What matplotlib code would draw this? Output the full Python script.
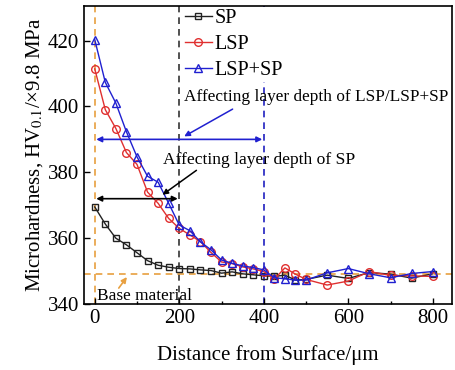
import matplotlib
matplotlib.use('Agg')
import matplotlib.pyplot as plt

plt.rcParams['font.family'] = ['Liberation Serif', 'DejaVu Serif']
plt.rcParams['mathtext.fontset'] = 'stix'

# depth from surface (um)
depth = [0, 25, 50, 75, 100, 125, 150, 175, 200, 225, 250, 275, 300, 325, 350,
         375, 400, 425, 450, 475, 500, 550, 600, 650, 700, 750, 800]

sp = [369.5, 364.3, 360.0, 358.0, 355.6, 353.2, 351.8, 351.2, 350.8, 350.7,
      350.4, 350.2, 349.4, 349.8, 349.2, 348.9, 348.6, 348.4, 348.8, 347.3,
      347.5, 348.8, 347.8, 349.6, 349.1, 347.9, 349.2]
lsp = [411.4, 399.0, 393.3, 386.0, 382.4, 374.0, 370.6, 366.0, 363.0, 361.0,
       359.0, 355.7, 352.8, 352.3, 351.3, 350.7, 349.9, 347.6, 351.0, 349.1,
       347.5, 345.8, 347.0, 349.9, 348.7, 348.6, 348.4]
lsp_sp = [420.3, 407.3, 401.0, 392.3, 384.7, 378.8, 377.0, 370.6, 364.0, 362.3,
          358.9, 356.5, 353.4, 352.4, 351.6, 351.1, 350.4, 348.0, 347.7, 347.3,
          347.3, 349.5, 350.8, 349.2, 348.0, 349.3, 349.9]

base_hv = 349
orange = '#E8A040'

fig = plt.figure(figsize=(4.55, 3.7), dpi=100)
ax = fig.add_axes([0.185, 0.178, 0.808, 0.806])

# reference lines
ax.axvline(0, color=orange, ls=(0, (4, 3)), lw=1.2, zorder=1)
ax.axvline(200, color='#333333', ls=(0, (4, 3)), lw=1.2, zorder=1)
ax.axvline(400, color='#2020C0', ls=(0, (4, 3)), lw=1.2, zorder=1)
ax.axhline(base_hv, color=orange, ls=(0, (4, 3)), lw=1.2, zorder=1)

ax.plot(depth, sp, color='#222222', marker='s', mfc='none', ms=5, lw=1, label='SP', zorder=3)
ax.plot(depth, lsp, color='#E03030', marker='o', mfc='none', ms=5.5, lw=1, label='LSP', zorder=3)
ax.plot(depth, lsp_sp, color='#2020D0', marker='^', mfc='none', ms=6, lw=1, label='LSP+SP', zorder=3)

# depth arrows
ax.annotate('', xy=(-3, 390), xytext=(403, 390),
            arrowprops=dict(arrowstyle='<|-|>', color='#2020D0', lw=1.2, mutation_scale=8))
ax.annotate('', xy=(-3, 372), xytext=(203, 372),
            arrowprops=dict(arrowstyle='<|-|>', color='black', lw=1.2, mutation_scale=8))

ax.annotate('Affecting layer depth of LSP/LSP+SP', xy=(206, 390.5), xytext=(211, 402.9),
            fontsize=12.4, va='center', ha='left')
ax.annotate('', xy=(206, 390.5), xytext=(332, 399.6),
            arrowprops=dict(arrowstyle='-|>', color='#2020D0', lw=1.1, mutation_scale=8))
ax.annotate('Affecting layer depth of SP', xy=(155, 372.7), xytext=(161, 383.6),
            fontsize=12.6, va='center', ha='left')
ax.annotate('', xy=(155, 372.7), xytext=(246, 381.1),
            arrowprops=dict(arrowstyle='-|>', color='black', lw=1.1, mutation_scale=8))
ax.text(6, 342.6, 'Base material', fontsize=12.4, va='center', ha='left')
ax.annotate('', xy=(80, 348.9), xytext=(53, 344.2),
            arrowprops=dict(arrowstyle='-|>', color=orange, lw=1.2, mutation_scale=8))

ax.set_xlim(-25, 845)
ax.set_ylim(340, 430.5)
ax.set_xticks([0, 200, 400, 600, 800])
ax.set_xticks([100, 300, 500, 700], minor=True)
ax.set_yticks([340, 360, 380, 400, 420])
ax.tick_params(direction='in', labelsize=15, length=4, width=1)
ax.tick_params(which='minor', direction='in', length=2.5, width=1)
for s in ax.spines.values():
    s.set_linewidth(1.2)

ax.set_xlabel('Distance from Surface/μm', fontsize=15, labelpad=12)
ax.set_ylabel('Microhardness, HV$_{0.1}$/×9.8 MPa', fontsize=15, labelpad=2)

leg = ax.legend(loc='upper left', bbox_to_anchor=(0.268, 0.998), frameon=True, fontsize=14.5,
                handlelength=1.35, handletextpad=0.15, labelspacing=0.35, borderpad=0.1,
                borderaxespad=0.0, facecolor='white', edgecolor='none', framealpha=1)
leg.set_zorder(5)

fig.savefig('out.png', dpi=100)
